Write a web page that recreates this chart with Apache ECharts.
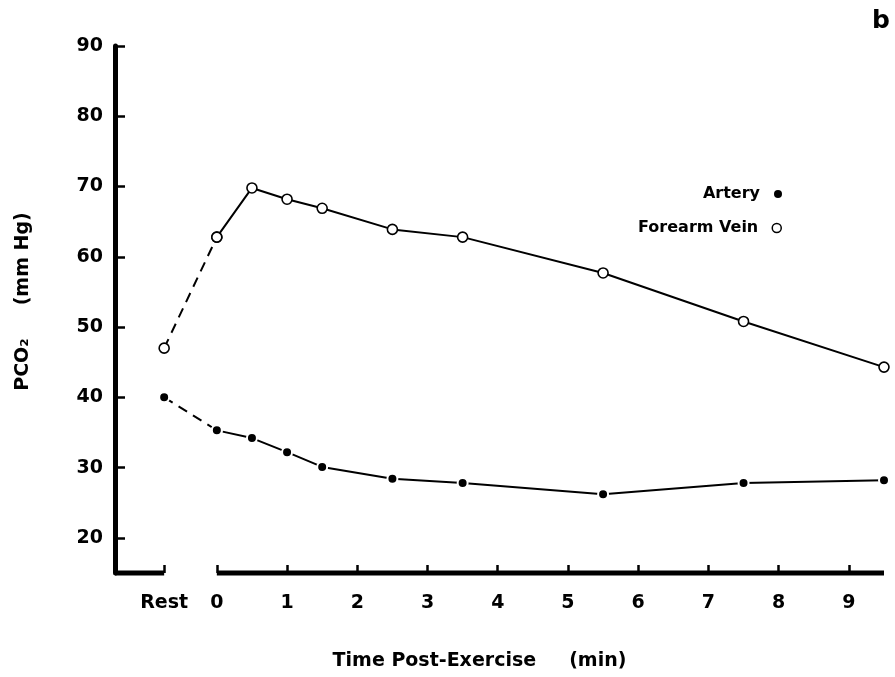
<!DOCTYPE html>
<html>
<head>
<meta charset="utf-8">
<title>PCO2 post-exercise</title>
<script src="https://cdn.jsdelivr.net/npm/echarts@6/dist/echarts.min.js"></script>
<style>
  html, body { margin: 0; padding: 0; background: #fff; }
  #chart { width: 895px; height: 677px; }
</style>
</head>
<body>
<div id="chart"></div>
<script>
// Sampling times (min after exercise); the resting sample sits left of the axis break
const TIMES = [0, 0.5, 1, 1.5, 2.5, 3.5, 5.5, 7.5, 9.5];
const REST_X = -0.75;
const REST_LABEL = 'Rest';

// PCO2 (mm Hg)
const ARTERY_REST = 40;
const ARTERY = [35.3, 34.2, 32.2, 30.1, 28.4, 27.8, 26.2, 27.8, 28.2];
const VEIN_REST = 47;
const VEIN = [62.8, 69.8, 68.2, 66.9, 63.9, 62.8, 57.7, 50.8, 44.3];

// Axis extents and ticks
const X_MIN = -1.45;
const X_MAX = 9.5;
const Y_MIN = 15;
const Y_MAX = 90;
const X_TICKS = [REST_X, 0, 1, 2, 3, 4, 5, 6, 7, 8, 9];
const Y_TICKS = [20, 30, 40, 50, 60, 70, 80, 90];

const FONT = '"DejaVu Sans", "Liberation Sans", sans-serif';
const INK = '#000';

const pair = (xs, ys) => xs.map((x, i) => [x, ys[i]]);

const arteryStyle = {
  symbol: 'circle', symbolSize: 10,
  itemStyle: { color: INK, borderColor: '#fff', borderWidth: 2 }
};
const veinStyle = {
  symbol: 'circle', symbolSize: 10,
  itemStyle: { color: '#fff', borderColor: INK, borderWidth: 1.6 }
};

const chart = echarts.init(document.getElementById('chart'), null, { renderer: 'canvas' });

chart.setOption({
  animation: false,
  backgroundColor: '#fff',
  textStyle: { fontFamily: FONT, color: INK },
  title: {
    text: 'b', right: 0, top: 4,
    textStyle: { fontFamily: FONT, fontSize: 25, fontWeight: 'bold', color: INK }
  },
  legend: [
    {
      data: [{ name: 'Artery', icon: 'circle', itemStyle: { color: INK, borderWidth: 0 } }],
      right: 108, top: 181, align: 'right', itemWidth: 8, itemHeight: 8,
      selectedMode: false,
      textStyle: { fontFamily: FONT, fontSize: 16, fontWeight: 'bold', color: INK, padding: [0, 9, 0, 0] }
    },
    {
      data: [{ name: 'Forearm Vein', icon: 'circle', itemStyle: { color: '#fff', borderColor: INK, borderWidth: 1.5 } }],
      right: 108, top: 215, align: 'right', itemWidth: 9, itemHeight: 9,
      selectedMode: false,
      textStyle: { fontFamily: FONT, fontSize: 16, fontWeight: 'bold', color: INK, padding: [0, 9, 0, 0] }
    }
  ],
  grid: { left: 115, right: 11, top: 46, bottom: 104, outerBoundsMode: 'none' },
  xAxis: {
    type: 'value', min: X_MIN, max: X_MAX,
    name: 'Time Post-Exercise     (min)',
    nameLocation: 'middle', nameGap: 79,
    nameTextStyle: { fontFamily: FONT, fontSize: 19, fontWeight: 'bold', color: INK, padding: [0, 40, 0, 0] },
    axisLine: { show: false },
    splitLine: { show: false },
    axisTick: {
      show: true, inside: true, length: 8, customValues: X_TICKS,
      lineStyle: { color: INK, width: 2.5 }
    },
    axisLabel: {
      customValues: X_TICKS, margin: 21,
      fontFamily: FONT, fontSize: 19, fontWeight: 'bold', color: INK,
      formatter: v => (v === REST_X ? REST_LABEL : String(v))
    }
  },
  yAxis: {
    type: 'value', min: Y_MIN, max: Y_MAX,
    name: 'PCO\u2082     (mm Hg)',
    nameLocation: 'middle', nameGap: 82, nameRotate: 90,
    nameTextStyle: { fontFamily: FONT, fontSize: 19, fontWeight: 'bold', color: INK, padding: [0, 0, 0, 16] },
    axisLine: { show: true, onZero: false, lineStyle: { color: INK, width: 5 } },
    splitLine: { show: false },
    axisTick: {
      show: true, inside: true, length: 10, customValues: Y_TICKS,
      lineStyle: { color: INK, width: 2.5 }
    },
    axisLabel: {
      customValues: Y_TICKS, margin: 12,
      fontFamily: FONT, fontSize: 19, fontWeight: 'bold', color: INK
    }
  },
  series: [
    // broken x-axis baseline: resting segment, then the post-exercise segment
    {
      type: 'line', silent: true, clip: false, showSymbol: false, symbol: 'none', z: 1,
      data: [[X_MIN, Y_MIN], [REST_X, Y_MIN]],
      lineStyle: { color: INK, width: 5, cap: 'butt' }
    },
    {
      type: 'line', silent: true, clip: false, showSymbol: false, symbol: 'none', z: 1,
      data: [[TIMES[0], Y_MIN], [X_MAX, Y_MIN]],
      lineStyle: { color: INK, width: 5, cap: 'butt' }
    },
    // rest -> 0 min joined with dashes
    Object.assign({
      name: 'Artery', type: 'line', clip: false, z: 3,
      data: [[REST_X, ARTERY_REST], [TIMES[0], ARTERY[0]]],
      lineStyle: { color: INK, width: 2, type: [10, 7] }
    }, arteryStyle),
    Object.assign({
      name: 'Artery', type: 'line', clip: false, z: 3,
      data: pair(TIMES, ARTERY),
      lineStyle: { color: INK, width: 2 }
    }, arteryStyle),
    Object.assign({
      name: 'Forearm Vein', type: 'line', clip: false, z: 3,
      data: [[REST_X, VEIN_REST], [TIMES[0], VEIN[0]]],
      lineStyle: { color: INK, width: 2, type: [10, 7] }
    }, veinStyle),
    Object.assign({
      name: 'Forearm Vein', type: 'line', clip: false, z: 3,
      data: pair(TIMES, VEIN),
      lineStyle: { color: INK, width: 2 }
    }, veinStyle)
  ]
});
</script>
</body>
</html>
